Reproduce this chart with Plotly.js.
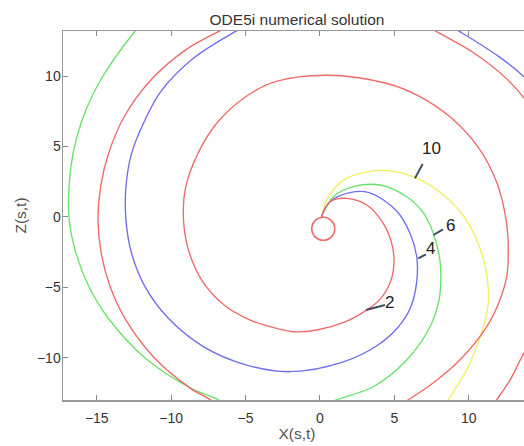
<!DOCTYPE html>
<html>
<head>
<meta charset="utf-8">
<script src="https://cdn.plot.ly/plotly-3.0.1.min.js"></script>
<style>
html, body { margin: 0; padding: 0; overflow: hidden; background: #fff; }
#chart { width: 531px; height: 446px; }
</style>
</head>
<body>
<div id="chart"></div>
<script>
// Curve "2" (red): inner spiral, then outer turn segments (null = leaves the frame)
const redX = [0.1, 0.67, 1.79, 3.14, 4.25, 4.82, 4.97, 4.7, 4.0, 3.05, 1.6, -0.22, -1.79, -3.36, -4.7, -6.4, -7.95, -8.9, -9.19, -9.02, -8.2, -6.9, -4.9, -3.0, 0.5, 4.51, 6.62, 8.85, 10.66, 11.9, 12.51, 12.65, 12.55, 11.99, 11.2, 9.4, 7.6, 5.93, 5.3,
  null, -6.9, -7.38, -8.67, -11.09, -13.06, -14.1, -14.7, -14.92, -14.74, -14.2, -13.13, -11.33, -9.05, -6.75, -6.2,
  null, 7.3, 7.84, 10.4, 12.55, 13.7, 14.4,
  null, 14.4, 13.7, 12.77, 11.87, 11.6];
const redY = [0.0, 1.07, 1.31, 0.84, -0.46, -1.88, -3.3, -4.72, -5.9, -6.68, -7.5, -8.04, -8.16, -7.8, -7.33, -6.3, -4.49, -2.12, 0.25, 2.14, 4.51, 6.7, 8.6, 9.6, 10.06, 9.47, 8.59, 7.0, 4.9, 2.39, -0.23, -2.11, -4.25, -6.17, -7.81, -10.17, -11.8, -13.0, -13.4,
  null, -13.5, -13.0, -12.2, -10.06, -7.3, -4.97, -2.59, -0.23, 2.15, 4.53, 7.16, 9.75, 11.84, 13.19, 13.45,
  null, 13.5, 13.15, 11.6, 9.8, 8.45, 7.2,
  null, -8.7, -9.7, -11.6, -13.0, -13.4];

// Curve "4" (blue)
const blueX = [0.1, 0.67, 2.0, 3.3, 5.15, 6.05, 6.5, 6.5, 6.1, 5.2, 3.9, 1.57, -2.0, -4.93, -7.84, -10.19, -11.76, -12.66, -13.04, -13.04, -12.66, -11.76, -10.7, -8.51, -5.71, -5.2,
  null, 9.0, 9.41, 12.0, 13.7, 14.4];
const blueY = [0.0, 1.07, 1.72, 1.72, 0.42, -1.17, -2.83, -4.6, -6.4, -7.9, -9.1, -10.3, -11.0, -10.53, -9.22, -7.21, -4.96, -2.59, -0.23, 2.14, 4.51, 6.88, 8.9, 11.26, 13.15, 13.45,
  null, 13.4, 13.15, 11.4, 9.95, 9.1];

// Curve "6" (green)
const greenX = [0.1, 0.9, 2.24, 4.03, 5.83, 6.9, 7.62, 8.06, 8.12, 8.0, 7.35, 5.83, 3.58, 1.12, 0.6,
  null, -6.4, -6.72, -8.66, -11.75, -14.25, -15.54, -16.4, -16.85, -16.87, -16.6, -16.0, -14.8, -12.53, -12.2];
const greenY = [0.0, 1.43, 2.14, 2.26, 1.43, 0.35, -1.17, -3.07, -4.5, -5.91, -7.9, -10.17, -12.07, -13.0, -13.3,
  null, -13.45, -13.06, -12.19, -10.03, -7.17, -4.93, -2.57, -0.24, 2.13, 4.49, 6.83, 9.61, 13.06, 13.45];

// Curve "10" (yellow)
const yellowX = [0.1, 0.45, 1.57, 3.14, 4.7, 6.5, 8.3, 9.75, 10.87, 11.3, 11.25, 10.08, 8.62, 8.4];
const yellowY = [0.0, 1.19, 2.61, 3.2, 3.27, 2.75, 1.55, -0.1, -2.59, -4.96, -6.62, -10.4, -13.0, -13.4];

// Small red circle at the start
const ringX = [0.22];
const ringY = [-0.85];

// Curve labels and their leader lines
const labelText = ['2', '4', '6', '10'];
const labelX = [4.7, 7.44, 8.74, 7.5];
const labelY = [-6.1, -2.24, -0.65, 4.87];
const leadX0 = [4.37, 7.12, 8.27, 6.9];
const leadY0 = [-6.26, -2.66, -0.89, 3.75];
const leadX1 = [3.09, 6.61, 7.62, 6.38];
const leadY1 = [-6.62, -2.95, -1.29, 2.73];

const xTicks = [-15, -10, -5, 0, 5, 10];
const yTicks = [-10, -5, 0, 5, 10];

const FONT = 'Liberation Sans, Arial, sans-serif';
const RED = 'rgb(238,105,105)', BLUE = 'rgb(110,110,238)', GREEN = 'rgb(105,226,105)', YELLOW = 'rgb(240,240,95)';
const lw = 1.35;

function curve(x, y, color) {
  return {x: x, y: y, mode: 'lines', line: {color: color, width: lw, shape: 'spline', smoothing: 1.0},
    connectgaps: false, hoverinfo: 'skip'};
}

const traces = [
  curve(greenX, greenY, GREEN),
  curve(yellowX, yellowY, YELLOW),
  curve(blueX, blueY, BLUE),
  curve(redX, redY, RED),
  {x: ringX, y: ringY, mode: 'markers', marker: {symbol: 'circle-open', size: 23, color: RED, line: {color: RED, width: 1.6}}, hoverinfo: 'skip'}
];

for (let i = 0; i < labelText.length; i++) {
  traces.push({x: [leadX0[i], leadX1[i]], y: [leadY0[i], leadY1[i]], mode: 'lines',
    line: {color: '#3f4d60', width: 2}, hoverinfo: 'skip'});
}

const annotations = labelText.map((t, i) => ({
  x: labelX[i], y: labelY[i], xref: 'x', yref: 'y', text: t, showarrow: false,
  font: {family: FONT, size: 17, color: '#222'}
}));

const axisCommon = {
  showgrid: false, zeroline: false, showline: true, linecolor: '#9a9a9a', linewidth: 1.5,
  mirror: 'ticks', ticks: 'inside', ticklen: 5, tickwidth: 1, tickcolor: '#888',
  tickfont: {family: FONT, size: 14, color: '#333'}
};

const layout = {
  width: 531, height: 446,
  margin: {l: 63, r: 0, t: 31, b: 46},
  paper_bgcolor: '#fff', plot_bgcolor: '#fff',
  showlegend: false,
  title: {text: 'ODE5i numerical solution', x: 0.5, xref: 'paper', y: 1 - 20 / 446, yref: 'container', yanchor: 'middle',
    font: {family: FONT, size: 15.5, color: '#333'}},
  xaxis: Object.assign({}, axisCommon, {range: [-17.27, 14.18], tickvals: xTicks, ticklabelstandoff: 5,
    title: {text: 'X(s,t)', standoff: 3, font: {family: FONT, size: 15.5, color: '#555'}}}),
  yaxis: Object.assign({}, axisCommon, {range: [-13.01, 13.2], tickvals: yTicks, ticklabelstandoff: -2,
    title: {text: 'Z(s,t)', standoff: 6, font: {family: FONT, size: 15.5, color: '#555'}}}),
  annotations: annotations
};

Plotly.newPlot('chart', traces, layout, {displayModeBar: false, staticPlot: true});
</script>
</body>
</html>
